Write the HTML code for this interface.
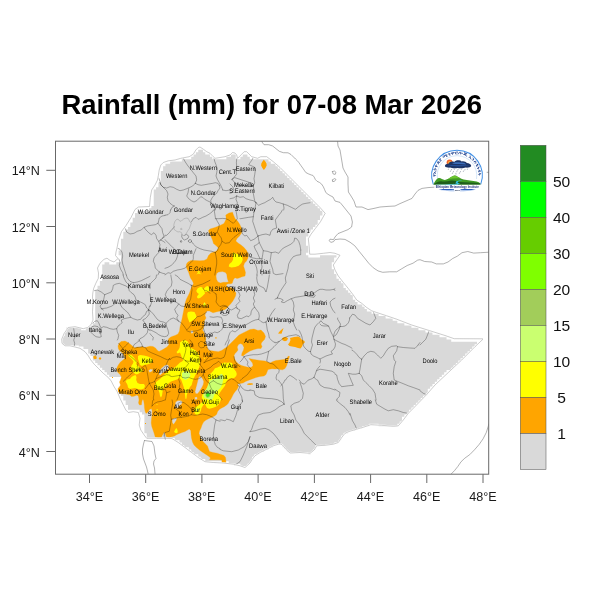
<!DOCTYPE html>
<html lang="en">
<head>
<meta charset="utf-8">
<title>Rainfall (mm) for 07-08 Mar 2026</title>
<style>
html,body{margin:0;padding:0;background:#fff;}
body{width:600px;height:600px;overflow:hidden;font-family:"Liberation Sans",sans-serif;}
svg{display:block;}
.title{font:bold 26.8px "Liberation Sans",sans-serif;fill:#000;}
.tick{font:12px "Liberation Sans",sans-serif;fill:#1a1a1a;}
.cb{font:14.6px "Liberation Sans",sans-serif;fill:#111;}
.lab{font:6.4px "Liberation Sans",sans-serif;fill:#000;text-rendering:geometricPrecision;text-anchor:middle;}
</style>
</head>
<body>
<svg width="600" height="600" viewBox="0 0 600 600">
<rect x="0" y="0" width="600" height="600" fill="#ffffff"/>
<defs><clipPath id="fc"><rect x="55.5" y="141.2" width="433.2" height="333"/></clipPath></defs>
<g clip-path="url(#fc)">
<path d="M191.22,156.83 191.22,159.17 181.85,159.17 181.85,161.51 170.14,161.51 170.14,163.86 165.45,163.86 165.45,166.20 163.11,166.20 163.11,168.54 163.11,170.88 160.77,170.88 160.77,173.23 160.77,175.57 160.77,177.91 160.77,180.25 160.77,182.60 158.43,182.60 158.43,184.94 158.43,187.28 156.08,187.28 156.08,189.62 153.74,189.62 153.74,191.96 153.74,194.31 153.74,196.65 153.74,198.99 153.74,201.33 153.74,203.68 153.74,206.02 151.40,206.02 151.40,208.36 149.06,208.36 149.06,210.70 137.35,210.70 137.35,213.05 135.00,213.05 135.00,215.39 135.00,217.73 132.66,217.73 132.66,220.07 132.66,222.41 130.32,222.41 130.32,224.76 130.32,227.10 127.98,227.10 127.98,229.44 125.63,229.44 125.63,231.78 123.29,231.78 123.29,234.13 123.29,236.47 123.29,238.81 120.95,238.81 120.95,241.15 120.95,243.50 120.95,245.84 120.95,248.18 120.95,250.52 118.61,250.52 118.61,252.86 118.61,255.21 120.95,255.21 120.95,257.55 120.95,259.89 120.95,262.23 116.27,262.23 116.27,264.58 109.24,264.58 109.24,262.23 104.55,262.23 104.55,264.58 102.21,264.58 102.21,266.92 102.21,269.26 102.21,271.60 102.21,273.95 102.21,276.29 102.21,278.63 102.21,280.97 99.87,280.97 99.87,283.31 99.87,285.66 97.53,285.66 97.53,288.00 97.53,290.34 95.18,290.34 95.18,292.68 95.18,295.03 95.18,297.37 95.18,299.71 95.18,302.05 95.18,304.40 95.18,306.74 95.18,309.08 95.18,311.42 95.18,313.76 95.18,316.11 95.18,318.45 95.18,320.79 95.18,323.13 92.84,323.13 92.84,325.48 90.50,325.48 90.50,327.82 85.82,327.82 85.82,330.16 81.13,330.16 81.13,327.82 77.00,327.82 77.00,327.50 66.30,327.50 66.30,332.50 64.73,332.50 64.73,334.84 64.73,336.00 63.90,336.00 63.90,337.19 62.39,337.19 62.39,339.53 62.39,341.87 62.39,344.21 63.90,344.21 63.90,345.60 78.79,345.60 78.79,346.56 83.47,346.56 83.47,348.90 88.16,348.90 88.16,351.24 88.16,353.58 90.50,353.58 90.50,355.93 92.84,355.93 92.84,358.27 92.84,360.61 95.18,360.61 95.18,362.95 97.53,362.95 97.53,365.29 99.87,365.29 99.87,367.64 102.21,367.64 102.21,369.98 104.55,369.98 104.55,372.32 106.90,372.32 106.90,374.66 109.24,374.66 109.24,377.01 120.95,377.01 120.95,379.35 120.95,381.69 120.95,384.03 120.95,386.38 118.61,386.38 118.61,388.72 118.61,391.06 120.95,391.06 120.95,393.40 120.95,395.74 123.29,395.74 123.29,398.09 123.29,400.43 125.63,400.43 125.63,402.77 125.63,405.11 127.98,405.11 127.98,407.46 127.98,409.80 139.69,409.80 139.69,412.14 142.03,412.14 142.03,414.48 144.37,414.48 144.37,416.83 144.37,419.17 144.37,421.51 144.37,423.85 144.37,426.19 144.37,428.54 144.37,430.88 144.37,433.22 146.72,433.22 146.72,435.56 146.72,437.91 174.82,437.91 174.82,440.25 179.51,440.25 179.51,442.59 181.85,442.59 181.85,444.93 184.19,444.93 184.19,447.28 188.88,447.28 188.88,449.62 191.22,449.62 191.22,451.96 193.56,451.96 193.56,454.30 198.25,454.30 198.25,456.64 200.59,456.64 200.59,458.99 205.27,458.99 205.27,461.33 228.70,461.33 228.70,463.67 240.41,463.67 240.41,466.01 247.43,466.01 247.43,463.67 249.78,463.67 249.78,461.33 252.12,461.33 252.12,458.99 252.12,456.64 254.46,456.64 254.46,454.30 259.15,454.30 259.15,451.96 263.83,451.96 263.83,449.62 268.51,449.62 268.51,447.28 273.20,447.28 273.20,444.93 282.57,444.93 282.57,447.28 284.91,447.28 284.91,449.62 287.25,449.62 287.25,451.96 308.33,451.96 308.33,454.30 310.68,454.30 310.68,451.96 313.02,451.96 313.02,449.62 315.36,449.62 315.36,447.28 315.36,444.93 334.10,444.93 334.10,442.59 338.78,442.59 338.78,440.25 341.13,440.25 341.13,437.91 341.13,435.56 343.47,435.56 343.47,433.22 348.15,433.22 348.15,430.88 355.18,430.88 355.18,428.54 362.21,428.54 362.21,426.19 369.23,426.19 369.23,423.85 378.60,423.85 378.60,426.19 397.34,426.19 397.34,423.85 399.68,423.85 399.68,421.51 402.03,421.51 402.03,419.17 402.03,416.83 404.37,416.83 404.37,414.48 406.71,414.48 406.71,412.14 409.05,412.14 409.05,409.80 411.40,409.80 411.40,407.46 413.74,407.46 413.74,405.11 416.08,405.11 416.08,402.77 418.42,402.77 418.42,400.43 420.76,400.43 420.76,398.09 423.11,398.09 423.11,395.74 425.45,395.74 425.45,393.40 427.79,393.40 427.79,391.06 427.79,388.72 430.13,388.72 430.13,386.38 432.48,386.38 432.48,384.03 434.82,384.03 434.82,381.69 437.16,381.69 437.16,379.35 439.50,379.35 439.50,377.01 441.84,377.01 441.84,374.66 444.19,374.66 444.19,372.32 446.53,372.32 446.53,369.98 451.21,369.98 451.21,367.64 453.56,367.64 453.56,365.29 455.90,365.29 455.90,362.95 458.24,362.95 458.24,360.61 460.58,360.61 460.58,358.27 462.93,358.27 462.93,355.93 465.27,355.93 465.27,353.58 467.61,353.58 467.61,351.24 469.95,351.24 469.95,348.90 472.29,348.90 472.29,346.56 474.64,346.56 474.64,344.21 476.98,344.21 476.98,341.87 451.21,341.87 451.21,339.53 446.53,339.53 446.53,337.19 439.50,337.19 439.50,334.84 432.48,334.84 432.48,332.50 425.45,332.50 425.45,330.16 418.42,330.16 418.42,327.82 411.40,327.82 411.40,325.48 404.37,325.48 404.37,323.13 397.34,323.13 397.34,320.79 392.66,320.79 392.66,318.45 385.63,318.45 385.63,316.11 378.60,316.11 378.60,313.76 371.58,313.76 371.58,311.42 366.89,311.42 366.89,309.08 364.55,309.08 364.55,306.74 362.21,306.74 362.21,304.40 357.52,304.40 357.52,302.05 355.18,302.05 355.18,299.71 352.84,299.71 352.84,297.37 352.84,295.03 350.50,295.03 350.50,292.68 348.15,292.68 348.15,290.34 345.81,290.34 345.81,288.00 343.47,288.00 343.47,285.66 343.47,283.31 341.13,283.31 341.13,280.97 338.78,280.97 338.78,278.63 336.44,278.63 336.44,276.29 336.44,273.95 334.10,273.95 334.10,271.60 334.10,269.26 331.76,269.26 331.76,266.92 331.76,264.58 331.76,262.23 334.10,262.23 334.10,259.89 334.10,257.55 336.44,257.55 336.44,255.21 320.05,255.21 320.05,257.55 308.33,257.55 308.33,255.21 305.99,255.21 305.99,252.86 308.33,252.86 308.33,250.52 308.33,248.18 308.33,245.84 305.99,245.84 305.99,243.50 305.99,241.15 305.99,238.81 305.99,236.47 308.33,236.47 308.33,234.13 308.33,231.78 310.68,231.78 310.68,229.44 313.02,229.44 313.02,227.10 315.36,227.10 315.36,224.76 317.70,224.76 317.70,222.41 317.70,220.07 320.05,220.07 320.05,217.73 320.05,215.39 322.39,215.39 322.39,213.05 322.39,210.70 320.05,210.70 320.05,208.36 317.70,208.36 317.70,206.02 315.36,206.02 315.36,203.68 313.02,203.68 313.02,201.33 310.68,201.33 310.68,198.99 308.33,198.99 308.33,196.65 305.99,196.65 305.99,194.31 303.65,194.31 303.65,191.96 301.31,191.96 301.31,189.62 298.96,189.62 298.96,187.28 296.62,187.28 296.62,184.94 294.28,184.94 294.28,182.60 291.94,182.60 291.94,180.25 289.60,180.25 289.60,177.91 287.25,177.91 287.25,175.57 284.91,175.57 284.91,173.23 282.57,173.23 282.57,170.88 280.23,170.88 280.23,168.54 277.88,168.54 277.88,166.20 275.54,166.20 275.54,163.86 270.86,163.86 270.86,161.51 268.51,161.51 268.51,159.17 249.78,159.17 249.78,156.83 247.43,156.83 247.43,154.49 242.75,154.49 242.75,156.83 240.41,156.83 240.41,159.17 235.72,159.17 235.72,156.83 235.72,154.49 231.04,154.49 231.04,156.83 226.35,156.83 226.35,159.17 212.30,159.17 212.30,156.83 209.96,156.83 209.96,154.49 205.27,154.49 205.27,152.15 202.93,152.15 202.93,149.80 198.25,149.80 198.25,152.15 195.90,152.15 195.90,154.49 193.56,154.49 193.56,156.83Z" fill="#d9d9d9" stroke="none"/>
<path d="M225.8,215.0 229.0,213.0 232.5,212.2 233.5,215.0 235.0,218.5 237.5,221.0 239.5,224.0 241.0,227.0 242.0,230.0 241.5,233.0 239.5,236.0 237.0,238.5 235.8,241.0 238.0,243.0 241.0,245.0 244.0,247.5 246.5,250.5 248.3,254.0 248.0,258.0 246.5,261.0 244.5,263.0 243.5,266.0 244.5,269.0 245.5,272.5 245.0,276.0 242.0,276.8 239.0,278.0 237.0,278.5 235.0,277.7 233.6,279.2 232.8,281.2 232.2,283.2 230.5,283.8 228.0,283.8 226.5,284.5 226.2,286.0 227.5,287.2 230.0,287.5 232.5,288.0 234.0,290.0 236.0,293.0 235.5,296.0 234.0,299.0 232.5,301.5 230.5,304.0 228.5,306.0 227.0,308.0 225.0,309.5 221.0,310.8 217.0,311.7 213.0,312.8 209.5,311.0 207.0,311.0 205.5,313.0 205.0,315.5 206.0,318.0 204.5,320.5 204.0,325.0 203.5,328.0 202.5,330.0 203.8,332.0 205.0,335.0 205.8,338.3 205.4,341.7 206.7,345.0 207.5,348.3 208.8,350.4 211.7,350.8 215.0,351.3 218.3,351.7 221.7,350.4 224.2,348.8 227.0,347.0 230.0,344.0 235.0,339.0 239.0,335.0 244.0,332.5 250.0,329.5 254.0,329.0 258.0,330.5 261.0,330.0 264.0,333.0 265.5,336.5 264.5,339.5 262.0,342.0 261.0,344.0 262.0,346.5 261.0,348.5 258.0,348.5 254.0,349.5 250.0,351.0 246.0,353.5 243.0,356.0 241.5,355.5 242.0,353.0 243.5,350.0 244.0,347.5 242.5,344.5 240.5,343.5 238.5,344.5 237.2,347.0 238.0,350.0 236.5,352.0 235.0,353.5 234.0,355.5 234.5,358.5 236.0,361.5 238.5,364.0 241.5,365.5 245.0,366.5 249.0,367.5 251.5,367.2 253.0,365.5 252.5,363.0 250.5,360.5 249.0,358.5 254.0,359.5 260.0,360.5 265.0,361.0 270.0,363.0 273.0,361.5 276.0,360.5 280.0,360.0 284.0,359.5 286.5,358.5 288.5,356.0 289.5,356.5 288.5,359.5 287.5,363.0 286.5,366.0 285.0,368.5 282.5,369.8 280.0,369.5 278.0,368.8 275.0,369.0 272.0,368.8 268.0,369.5 267.0,372.0 266.0,374.5 264.0,376.0 260.0,376.5 256.0,377.5 252.0,379.0 248.0,380.5 245.5,381.5 243.0,383.0 240.0,383.5 237.5,384.0 238.5,386.5 237.0,389.5 235.0,391.7 233.3,394.2 232.1,396.7 230.8,399.2 229.2,401.3 228.3,403.3 226.7,405.0 224.2,406.7 221.7,407.9 219.2,409.6 217.5,411.7 216.7,414.2 215.0,415.8 212.5,417.1 209.0,418.5 206.0,420.0 203.5,422.0 202.0,425.0 201.0,428.0 199.5,431.0 199.0,433.5 200.0,436.0 201.0,439.0 202.5,441.0 205.0,443.5 207.5,446.0 208.5,449.0 209.5,451.5 213.0,452.5 217.0,453.2 221.0,454.5 224.0,455.5 225.5,457.5 225.8,460.0 226.0,462.5 222.0,462.8 221.8,460.0 218.0,459.8 214.0,459.8 209.5,459.8 210.5,458.0 209.0,456.5 206.0,454.5 203.0,452.5 199.5,450.0 196.5,447.5 194.0,445.0 192.5,442.0 191.5,438.0 191.0,434.0 190.8,430.5 189.2,429.0 187.5,430.0 185.0,431.5 182.0,432.5 179.5,433.5 177.0,434.5 174.5,436.0 172.0,436.8 169.0,437.2 166.2,436.8 165.5,434.5 164.5,432.2 163.5,433.5 162.2,435.5 161.5,437.2 158.5,437.5 155.2,437.0 154.2,433.5 153.0,430.0 151.8,426.5 151.2,423.0 151.5,419.0 152.0,415.0 152.2,411.0 151.5,408.5 149.5,409.5 148.0,412.0 146.0,413.5 145.0,411.0 144.5,408.0 144.2,404.0 143.5,400.0 142.5,399.5 141.8,402.0 141.5,404.8 139.5,405.0 138.5,403.0 139.0,400.0 138.5,396.5 137.0,395.0 134.0,396.2 131.5,396.5 130.0,395.0 125.0,394.0 120.0,393.5 118.0,391.5 118.0,388.5 119.5,387.0 120.5,385.0 119.5,382.0 120.5,380.0 121.5,377.0 120.0,374.5 117.5,372.0 116.5,369.0 117.5,366.5 119.0,364.0 120.5,362.0 123.0,360.0 125.0,358.0 124.0,355.5 122.5,353.0 120.0,351.0 118.5,349.0 118.0,346.0 119.0,343.5 121.0,341.5 125.0,341.0 128.0,342.5 130.0,344.0 133.0,346.5 135.0,348.0 137.0,347.0 140.0,347.2 142.0,346.5 144.5,347.5 147.0,347.0 150.0,346.2 153.0,346.5 155.5,348.0 157.0,350.0 159.0,351.5 162.0,350.0 164.5,348.5 167.0,347.0 169.0,344.5 168.0,341.5 168.5,339.0 170.0,337.5 172.0,336.5 175.0,335.5 178.0,334.0 179.5,331.0 180.0,327.0 181.0,323.0 182.0,319.0 183.0,314.0 184.0,309.0 185.0,304.0 185.8,301.0 186.5,299.0 188.0,296.0 189.5,293.0 190.5,290.0 191.5,287.5 192.5,285.5 193.5,283.5 192.5,281.0 190.5,278.0 189.5,275.0 188.5,272.0 187.0,269.0 186.2,266.5 186.5,264.0 188.0,262.0 191.0,260.5 195.0,260.5 200.0,260.8 204.0,260.5 207.0,259.0 208.5,255.5 211.0,253.0 214.0,252.0 216.5,251.0 218.5,248.0 216.0,245.5 213.5,243.5 212.5,240.0 211.0,236.5 209.2,233.5 208.5,230.5 210.0,229.0 215.0,227.5 220.0,225.5 224.0,223.5 226.2,219.0ZM216.0,276.0 216.6,273.6 218.6,272.0 222.5,271.6 225.5,272.4 226.8,274.6 227.2,278.0 228.0,280.5 228.5,282.0 226.5,282.3 223.5,282.3 220.5,283.0 218.0,282.0 216.5,279.5ZM195.0,391.7 195.8,388.3 196.7,385.0 197.5,381.7 198.3,378.3 199.6,376.3 201.3,376.7 202.9,379.2 203.8,381.7 203.3,384.6 202.1,387.1 200.8,389.2 199.2,391.7 197.5,393.8 195.8,393.8ZM194.6,397.5 196.3,396.7 197.5,397.9 196.7,399.6 195.0,399.6ZM175.5,402.0 178.0,400.5 181.0,400.5 182.5,402.0 181.5,404.5 179.5,405.5 178.0,408.0 176.0,408.5 175.0,406.0ZM172.0,419.5 174.5,418.0 177.0,418.0 176.5,420.0 175.0,422.5 173.5,424.5 172.2,422.5ZM159.5,371.0 161.5,368.0 164.5,365.5 167.0,364.5 169.0,366.0 168.5,368.5 166.5,370.5 164.0,372.0 161.5,374.0 160.0,375.5 159.0,374.0ZM148.5,370.5 150.5,369.0 153.0,369.5 152.0,371.5 149.5,372.5ZM190.5,331.0 192.0,330.3 193.5,331.5 193.0,333.3 191.0,333.5Z" fill="#ffa500" fill-rule="evenodd" stroke="#ffa500" stroke-width="0.3" stroke-linejoin="round"/>
<path d="M263.8,159.8 265.2,161.2 266.5,163.6 266.7,165.4 265.6,167.8 263.9,170.0 262.2,167.8 261.1,165.4 261.3,163.4 262.6,161.2ZM93.3,356.5 94.5,355.6 96.5,356.5 96.8,358.5 95.0,359.3 93.5,358.6ZM98.7,358.0 100.0,357.2 101.3,358.0 101.0,359.5 99.2,359.6ZM112.0,377.0 113.0,377.0 113.0,378.0 112.0,378.0ZM278.0,333.5 280.0,331.0 283.5,328.0 282.5,331.0 281.5,333.8ZM281.8,338.5 283.5,337.2 286.0,337.0 288.0,338.2 287.0,340.5 285.0,341.2 282.8,340.5ZM290.0,338.0 294.0,337.0 298.0,336.5 300.0,337.5 301.5,339.5 304.5,341.0 304.8,342.5 303.0,344.0 302.0,346.5 300.5,348.5 298.0,348.0 295.0,347.0 292.0,346.5 289.5,346.0 288.0,344.5 289.5,342.5 290.5,340.0ZM247.0,384.0 249.0,383.2 252.5,383.2 253.0,384.5 250.0,385.0 247.5,384.8ZM145.0,423.0 146.0,423.0 146.0,424.0 145.0,424.0ZM215.3,337.3 216.6,337.3 216.6,338.6 215.3,338.6Z" fill="#ffa500"/>
<path d="M232.7,252.3 236.0,253.5 239.3,254.8 242.0,256.3 242.8,259.7 241.4,263.0 238.7,265.7 235.3,267.0 231.3,267.4 228.7,266.4 229.4,264.0 231.8,262.0 233.1,259.4 233.2,255.7ZM196.2,274.5 198.0,272.8 197.0,270.2 198.6,271.6 200.0,270.5 199.4,272.6 201.5,274.5 198.8,273.6ZM196.2,291.0 197.5,288.5 200.0,287.0 202.5,287.2 203.5,289.0 204.5,291.5 205.0,293.5 203.5,295.0 202.0,296.5 200.0,298.0 198.0,298.5 196.8,297.0 198.0,295.0 199.0,294.0 197.5,293.0ZM204.0,288.5 206.0,286.5 208.0,286.0 209.5,288.5 210.0,291.0 208.0,291.5 205.5,292.0 204.5,291.0ZM203.0,304.5 204.5,302.0 206.0,304.5 205.0,306.5 203.8,306.5ZM187.2,314.0 188.0,312.0 191.0,311.5 194.5,312.0 196.0,315.0 196.5,317.5 195.0,319.0 193.0,320.0 191.0,321.5 189.5,322.5 188.5,320.0 187.5,317.0ZM180.0,342.5 182.5,340.4 185.0,340.0 187.5,341.3 189.2,344.2 190.0,347.5 192.5,348.8 195.8,350.4 197.9,352.9 199.2,355.8 199.6,359.2 200.0,362.5 199.6,365.8 198.8,368.3 197.5,370.8 196.3,373.3 195.0,375.8 193.8,378.3 192.5,381.7 191.7,385.0 190.0,387.0 188.0,391.0 186.8,395.0 186.5,398.5 185.5,399.0 185.0,395.0 184.5,391.0 184.0,388.0 183.0,385.0 182.0,382.0 181.0,379.5 179.5,378.0 177.0,379.5 174.0,380.5 171.0,381.5 169.0,383.0 167.0,385.0 165.0,387.0 163.0,389.0 162.5,392.0 162.0,395.5 161.0,397.5 160.0,396.0 159.5,393.0 158.5,390.0 156.5,389.0 155.5,387.0 155.0,384.5 156.0,382.0 158.0,380.5 160.0,379.0 162.0,377.0 164.0,375.0 166.0,373.0 168.5,371.0 171.0,369.5 173.5,368.0 176.0,366.5 178.0,364.5 180.0,362.5 182.0,361.5 183.5,360.0 182.0,358.0 181.0,355.0 180.0,352.5 177.5,353.5 176.5,352.0 178.0,350.5 179.5,348.0 180.0,345.0ZM138.0,356.0 140.0,355.0 144.0,355.5 148.0,356.5 151.0,358.0 153.0,360.0 152.5,362.0 150.0,363.5 147.0,364.5 144.0,365.0 142.0,366.0 140.0,365.0 139.0,362.0 138.0,359.0ZM128.0,354.5 131.5,355.0 134.0,357.5 135.5,360.0 137.0,362.0 136.0,364.0 138.0,366.0 140.0,367.5 142.0,369.0 143.0,371.0 140.0,372.5 138.0,374.0 136.0,374.5 134.0,373.0 132.0,371.0 131.0,368.0 131.5,365.5 133.0,363.5 133.5,361.5 132.0,359.5 130.0,357.5 128.5,356.0ZM125.5,381.5 127.0,379.5 130.0,379.0 131.0,377.5 133.0,376.0 135.5,375.0 136.5,377.0 136.2,380.0 137.5,383.0 140.0,384.0 144.0,384.0 145.0,386.0 144.0,388.5 141.0,389.5 138.0,389.0 135.0,388.0 132.5,388.5 130.0,389.0 128.0,387.5 127.5,385.0 126.5,383.0ZM221.7,363.8 224.2,362.5 227.0,362.8 230.0,362.5 232.0,363.0 233.0,365.0 232.5,367.0 234.0,369.0 236.0,371.5 236.8,374.0 236.2,376.0 234.5,377.8 232.5,378.3 229.2,378.8 227.1,380.8 225.8,383.3 225.0,385.8 223.3,387.9 221.7,390.0 220.0,392.5 218.8,394.6 220.0,396.7 221.3,399.2 220.0,402.1 218.3,405.0 215.8,406.7 212.5,407.9 209.2,408.8 207.1,407.9 205.8,405.8 205.0,403.3 203.8,401.7 202.5,399.6 201.7,397.1 202.5,394.6 204.2,392.5 205.8,390.0 207.1,387.5 207.9,385.0 208.3,383.3 209.2,381.7 208.8,379.2 207.9,376.7 208.8,375.0 210.4,373.8 211.7,372.5 213.3,370.8 215.0,368.3 217.5,367.5 220.0,366.3ZM194.2,409.2 195.4,407.1 197.5,406.0 199.6,404.5 201.5,402.5 203.5,401.5 205.0,403.3 203.0,405.5 201.5,408.0 200.8,411.0 199.5,413.6 197.5,415.2 195.6,414.6 194.4,412.5ZM174.0,432.0 175.5,429.0 176.5,428.0 177.5,430.0 177.8,432.5 176.0,433.2ZM156.6,404.0 157.4,404.0 157.4,405.0 156.6,405.0ZM156.6,409.0 157.6,409.0 157.6,410.5 156.6,410.5ZM157.5,414.5 158.5,414.5 158.5,415.8 157.5,415.8ZM204.0,357.8 205.0,358.0 204.6,359.0 203.8,358.8Z" fill="#ffff00"/>
<path d="M182.0,373.0 184.0,371.5 187.0,371.2 189.5,372.5 190.5,375.0 189.5,377.3 187.5,379.0 185.5,380.0 183.0,378.8 182.0,376.5ZM209.6,380.8 212.5,379.2 215.8,378.3 218.3,376.7 220.4,374.2 222.1,373.8 222.9,375.8 223.3,378.3 222.9,380.8 222.5,383.3 221.7,385.8 220.4,387.9 218.8,389.6 217.1,391.3 215.4,392.9 214.2,395.0 213.3,397.5 212.5,399.2 210.8,400.0 208.8,399.6 206.7,398.8 204.6,397.9 203.3,395.8 203.8,393.3 205.0,390.8 206.7,388.3 207.9,385.8 208.8,383.3ZM196.3,409.2 197.5,408.3 198.6,409.2 198.2,410.8 196.8,411.0ZM204.2,303.6 204.6,302.8 205.2,303.6 204.8,304.6Z" fill="#caff70"/>
<path d="M205.6,393.8 207.6,391.8 210.0,392.6 210.8,395.0 209.4,397.3 207.0,397.9 205.4,395.8Z" fill="#a2cd5a"/>
<path d="M206.3,393.8 207.9,392.6 209.4,393.3 209.8,395.0 208.7,396.5 207.1,396.9 206.1,395.4Z" fill="#3fe81c"/>
<g fill="none" stroke="#000" stroke-opacity="0.62" stroke-width="0.48" stroke-linejoin="round" stroke-linecap="round">
<polyline points="183.3,158.4 185.3,162.0 188.0,166.0 190.7,169.3 193.3,172.7 196.0,176.0 196.7,180.0 195.3,183.3"/>
<polyline points="158.7,178.0 160.0,181.3 160.7,184.7 163.3,187.3 166.7,188.0 170.0,186.7 173.3,187.3 176.7,189.3 180.0,190.7 183.3,190.0 186.7,188.7 190.0,187.3 192.7,186.0 195.3,183.3"/>
<polyline points="195.3,183.3 198.0,184.7 201.3,185.3 204.7,184.7 208.7,184.0 212.7,183.3 215.3,182.7 218.0,183.3 219.3,185.3"/>
<polyline points="214.0,158.0 214.7,161.3 216.0,164.7 217.3,168.7 216.7,172.7 216.0,176.0 217.3,179.3 219.3,182.7 220.7,185.3 222.0,188.0 222.7,190.0"/>
<polyline points="188.7,188.7 188.0,192.7 186.7,196.0 188.7,198.7 191.3,200.7 194.0,202.0 196.7,200.7 198.7,198.7 200.7,196.7 202.7,197.3 204.7,199.3 207.3,200.7 210.0,202.0 211.3,203.3"/>
<polyline points="219.3,185.3 220.0,188.0 218.0,190.7 216.7,193.3 214.0,195.3 212.0,198.0 210.7,200.7 211.3,203.3"/>
<polyline points="160.0,182.7 161.3,185.3 164.0,188.0 166.7,190.7 168.0,194.0 167.3,197.3 168.0,200.7 170.0,203.3 172.7,205.3 174.7,206.0 172.0,207.3 170.7,210.0"/>
<polyline points="211.3,203.3 213.3,205.3 215.3,208.0 214.8,210.0"/>
<polyline points="215.3,208.0 215.0,210.0"/>
<polyline points="222.7,190.0 226.0,190.7 230.0,190.0"/>
<polyline points="253.3,157.3 252.0,160.0 250.0,162.7 248.7,164.7 252.0,166.0 254.7,167.3 255.3,170.7 254.7,174.7 254.0,178.7 254.7,182.7 253.3,186.0 254.0,190.0 253.3,193.3 254.0,197.3 254.7,200.7 256.0,202.7"/>
<polyline points="236.7,158.7 236.4,162.7 236.7,166.7 236.0,170.7 236.7,174.0 234.7,176.7 232.0,179.3"/>
<polyline points="232.0,179.3 234.7,177.6 238.0,178.7 242.0,180.0 246.0,181.3 250.0,182.7 252.0,183.3"/>
<polyline points="232.0,179.3 234.7,182.7 238.0,184.7 242.0,185.3 246.0,186.0 250.0,186.7 253.3,186.0"/>
<polyline points="230.0,184.0 232.7,186.7 234.0,190.0 232.0,192.7 230.0,193.3"/>
<polyline points="236.7,196.0 240.0,197.3 243.3,196.7 246.0,198.7 250.0,200.0 253.3,200.7 256.0,202.7"/>
<polyline points="236.7,196.0 236.0,199.3 237.3,202.7 236.7,206.7 237.2,210.0"/>
<polyline points="256.0,202.7 258.7,205.3 261.3,204.0 264.7,202.7 268.0,200.7 270.7,199.3 272.7,197.3 274.0,200.0 276.0,202.0 279.3,202.7 283.3,204.0 287.3,205.3 291.3,207.3 295.3,209.3 297.3,208.0 299.3,206.0 302.7,204.0 306.0,203.3 310.0,202.7"/>
<polyline points="283.3,204.0 284.0,208.0 283.7,210.0"/>
<polyline points="256.0,202.7 255.3,206.7 254.8,210.0"/>
<polyline points="230.0,198.7 233.3,198.0 236.7,196.0"/>
<polyline points="125.3,228.7 126.7,232.0 130.0,234.0 134.0,233.3 137.3,231.3 141.3,230.0 144.0,227.3 147.3,226.0 151.3,225.3 155.3,224.7 158.0,223.3"/>
<polyline points="165.0,215.5 162.0,216.0 159.3,218.0 158.7,220.7 158.0,223.3 160.0,226.0 162.0,228.7 162.7,232.7 164.0,236.0 162.0,238.7 160.7,240.0"/>
<polyline points="144.0,227.3 146.0,230.0 148.7,232.7 151.3,234.7 154.0,232.7 156.0,235.3 156.7,238.7 158.7,241.3 160.7,240.0"/>
<polyline points="158.7,241.3 160.0,244.7 159.3,248.0 160.0,251.3 158.0,253.3 156.0,255.3 154.0,258.0 153.3,261.3 154.7,264.0 155.3,268.0 157.3,270.0 159.3,272.0"/>
<polyline points="160.7,240.0 163.3,241.3 165.0,242.6"/>
<polyline points="159.3,272.0 158.0,274.7 157.8,275.0"/>
<polyline points="159.3,272.0 162.7,273.3 165.0,273.8"/>
<polyline points="117.3,248.0 120.0,249.3 122.0,252.0 122.7,256.0 122.0,260.0 122.7,264.0 124.0,268.0 125.3,272.0 126.3,275.0"/>
<polyline points="116.7,256.7 118.7,258.7 120.0,262.0 119.3,265.3 120.7,269.3 122.7,272.7 123.4,275.0"/>
<polyline points="162.0,238.7 164.7,236.7 165.0,236.5"/>
<polyline points="170.5,210.0 170.0,212.7 168.0,214.7 165.0,215.2"/>
<polyline points="191.3,222.0 193.3,218.7 196.0,217.3 198.0,219.3 200.0,218.7 202.7,217.3 206.0,216.0 209.3,214.0 212.0,212.0 213.5,210.0"/>
<polyline points="214.1,210.0 214.7,213.3 215.3,217.3 217.3,221.3 219.3,224.7 218.7,228.0 217.3,232.0 219.3,235.3 221.3,238.0 222.0,241.3 220.7,244.7 218.7,247.3 217.3,250.7 215.3,252.7"/>
<polyline points="215.3,218.7 218.7,218.7 222.7,218.4 226.0,218.7 228.7,220.0 231.3,222.0 233.3,223.3 235.3,221.3 237.3,218.7 236.7,214.7 236.0,210.7 236.1,210.0"/>
<polyline points="191.3,241.3 193.3,244.0 196.0,246.7 200.0,248.7 204.0,250.0 208.0,250.7 212.0,251.3 215.3,252.7"/>
<polyline points="222.0,241.3 225.3,243.3 229.3,242.7 231.3,240.0 234.0,237.3 237.3,234.7 240.0,232.7"/>
<polyline points="215.3,252.7 216.0,256.0 216.7,260.0 216.7,264.0 216.0,268.0 215.3,272.0 214.8,275.0"/>
<polyline points="196.0,248.7 194.7,252.0 193.3,255.3 193.3,258.7 192.7,260.7 190.7,262.7 188.0,265.3 185.3,268.0 181.3,269.3 177.3,270.0 173.3,271.3 170.7,273.3 168.0,272.7 165.3,274.7 165.0,274.8"/>
<polyline points="165.0,239.8 165.3,240.0 168.0,242.7 170.7,245.3 173.3,248.0 176.0,250.7 178.0,253.3 177.3,256.7 176.0,260.0 174.0,262.7 171.3,265.3 168.0,267.3 165.0,268.3"/>
<polyline points="174.7,226.7 172.0,229.3 169.3,232.7 166.7,235.3 165.0,235.3"/>
<polyline points="254.3,210.0 254.0,212.0 253.3,216.7 252.7,221.3 254.0,225.3 255.3,229.3 256.7,233.3 258.0,236.0"/>
<polyline points="240.0,218.6 240.7,218.7 244.7,218.0 248.7,217.3 253.3,216.7"/>
<polyline points="282.3,210.0 281.3,212.0 278.7,215.3 276.7,218.0 275.3,220.0 276.0,224.0 276.7,228.0 272.7,229.3 270.7,232.0 270.0,235.3 266.0,234.0 262.0,234.7 258.0,236.0"/>
<polyline points="241.3,231.3 242.7,234.0 244.7,236.0 246.7,235.3 248.7,238.0 250.7,240.7 254.0,239.3 256.7,237.3 258.0,236.0"/>
<polyline points="258.0,236.0 258.7,240.0 259.3,242.7 256.7,244.7 254.0,246.0 255.3,249.3 257.3,252.7 258.7,256.0 260.0,258.7"/>
<polyline points="259.3,242.7 261.3,246.7 263.3,250.7 262.7,254.7 262.0,258.7 261.3,262.7 262.0,266.7 261.3,270.7 262.0,274.7 262.0,275.0"/>
<polyline points="263.3,250.7 267.3,251.3 271.3,252.7 275.3,252.0 278.7,253.3 280.7,250.7 283.3,248.0 287.3,246.0 291.3,244.0 294.0,241.3 294.7,238.0 296.7,238.7 298.7,241.3 300.0,245.3 300.7,249.3 300.8,250.0"/>
<polyline points="271.3,252.7 270.7,257.3 270.0,261.3 271.3,265.3 272.7,269.3 273.3,273.3 276.0,274.7 280.7,274.0 283.0,273.6"/>
<polyline points="250.0,257.3 253.3,258.0 256.7,258.7 260.0,258.7 262.0,258.7"/>
<polyline points="240.0,232.2 241.3,231.3"/>
<polyline points="255.3,264.0 256.7,268.0 257.3,272.0 256.8,275.0"/>
<polyline points="94.0,290.7 97.3,290.0 101.3,292.0 104.7,294.7 108.0,293.3 111.3,292.0 112.7,288.7 113.3,285.3 116.0,284.0 119.3,283.3 122.7,284.7 126.0,286.0 128.7,288.0"/>
<polyline points="123.0,275.0 124.0,278.0 126.0,282.0 128.7,284.7 128.7,288.0"/>
<polyline points="126.3,275.0 127.3,278.0 130.0,281.3 133.3,282.7"/>
<polyline points="128.7,288.0 129.3,290.7 131.3,292.7 134.0,294.7 135.3,297.3 136.0,300.0 138.7,301.3 142.0,302.7 145.3,304.7 146.7,308.0 148.7,310.0"/>
<polyline points="149.3,284.7 150.0,288.7"/>
<polyline points="150.0,305.6 149.3,306.7 148.7,310.0"/>
<polyline points="133.3,282.7 137.3,282.0 141.3,280.7 145.3,278.7 149.3,276.7 150.0,276.3"/>
<polyline points="104.7,294.7 104.0,298.0 103.3,301.3 102.0,304.0 100.0,306.0 101.3,308.7 103.3,310.0"/>
<polyline points="101.3,308.7 106.7,308.0 112.0,306.0 115.3,303.3 118.7,302.7 120.0,304.0"/>
<polyline points="120.0,304.0 122.0,307.3 124.7,310.0 127.3,312.0 129.3,314.7 130.7,317.3 133.3,318.7 137.3,320.0 140.7,319.3 142.7,316.7 145.3,314.7 146.7,311.3 148.7,310.0"/>
<polyline points="130.7,317.3 127.3,318.0 124.0,318.7 121.3,320.0 122.0,322.7 120.0,324.7 118.0,326.0 116.7,328.7 117.3,332.0 118.7,335.3 118.0,338.7 117.3,340.0"/>
<polyline points="116.7,328.7 113.3,329.3 110.0,328.7 106.7,327.3 103.3,326.7 101.3,328.0 100.0,326.0 98.7,322.7 97.3,320.7 94.7,321.3 92.7,323.3"/>
<polyline points="90.0,328.7 92.0,326.7 94.7,326.0 98.0,326.7 100.0,328.7 101.3,331.3 100.7,334.0 101.3,336.7 99.3,337.3 96.0,336.7 93.3,334.7 91.3,332.7 90.0,330.7 90.0,328.7"/>
<polyline points="148.7,310.0 149.3,314.0 147.3,316.7 145.3,318.7 142.7,320.0 144.7,322.7 146.7,326.0 148.0,329.3 147.3,332.7 145.3,335.3 142.7,337.3 140.0,338.7 138.7,340.0"/>
<polyline points="148.0,329.3 150.0,330.5"/>
<polyline points="148.7,310.0 150.0,310.7"/>
<polyline points="170.8,275.0 171.3,278.0 172.0,282.0 171.3,286.0 168.7,288.7 166.7,291.3 165.3,294.7 166.7,298.0 169.3,300.0 172.7,301.3 176.0,302.0 178.7,304.0 181.3,306.0 184.7,306.7"/>
<polyline points="175.2,275.0 178.0,276.7 180.0,279.3 184.0,281.3 188.0,283.3 191.3,285.3"/>
<polyline points="191.3,285.3 194.7,286.7 198.7,285.3 202.7,284.0 206.7,282.0 210.0,280.3"/>
<polyline points="191.3,285.3 192.0,290.0 191.3,294.7 190.7,298.7 189.3,302.0 186.0,304.0 184.7,306.7"/>
<polyline points="202.7,288.0 204.7,290.7 206.7,290.7 209.3,292.7 210.0,293.1"/>
<polyline points="178.7,304.0 176.7,306.7 174.7,309.3 176.0,312.7 178.0,315.3 176.7,318.0 178.7,321.3 181.3,322.7 184.0,326.0 186.7,330.0 189.3,327.3 192.0,323.3 194.7,319.3 197.3,316.7 200.7,316.0 204.0,314.0 206.7,312.0"/>
<polyline points="186.7,330.7 190.0,332.0 193.3,331.3 197.3,330.7 200.7,329.3 202.7,326.7 205.3,325.3 209.3,324.7 210.0,324.9"/>
<polyline points="178.7,321.3 176.0,319.3 173.3,318.0 170.0,319.3 168.0,321.3 166.0,323.3 166.7,326.7 168.0,330.0 168.7,333.3 167.3,336.0 164.7,336.7 161.3,336.0 158.7,334.7 156.0,332.7 153.3,331.3 150.7,330.0 150.0,329.8"/>
<polyline points="150.0,310.8 150.7,311.3 153.3,314.0 155.3,316.7 157.3,319.3 160.0,321.3 163.3,322.0 166.0,323.3"/>
<polyline points="150.0,306.7 151.3,303.3 152.0,300.7 150.7,298.0 150.0,294.0"/>
<polyline points="150.0,285.0 150.7,283.3 153.3,280.7 156.0,278.0 156.5,275.0"/>
<polyline points="150.0,333.6 151.3,335.3 153.3,337.3 152.8,340.0"/>
<polyline points="202.7,326.7 204.0,330.0 205.3,334.0 204.7,338.0 205.3,340.0"/>
<polyline points="236.0,290.0 238.7,292.0 240.0,295.3 238.7,298.7 240.0,301.3 238.0,303.3 236.0,305.3 237.3,308.7 240.0,310.0 238.7,312.7 237.3,315.3 238.0,318.0 241.3,318.7 244.0,317.3 246.7,316.0 248.7,316.7 250.7,314.7 251.3,311.3 252.7,308.7 254.7,307.3 253.3,304.0 254.7,301.3 253.3,298.0 254.7,294.7 254.0,291.3 255.3,288.7"/>
<polyline points="254.7,307.3 256.7,310.0 258.7,312.7 259.3,316.0 258.7,319.3 260.7,321.3 263.3,322.7 266.0,322.0"/>
<polyline points="228.7,308.7 231.3,310.0 234.0,308.7 236.0,307.3 237.3,308.7"/>
<polyline points="258.7,319.3 255.3,320.0 252.0,321.3 248.7,323.3 246.0,324.7 242.7,326.0 240.0,328.0 237.3,330.0 235.3,332.0 232.0,330.7 230.0,332.7 228.7,336.0 228.0,339.3 226.0,342.7 225.1,345.0"/>
<polyline points="266.0,322.0 266.7,326.0 267.3,330.0 268.7,334.0 269.3,338.0 272.0,340.7 274.7,342.7 275.0,342.9"/>
<polyline points="266.0,322.0 268.0,319.3 270.0,316.0 272.0,312.7 274.0,310.0 275.0,308.7"/>
<polyline points="257.2,275.0 256.7,278.0 257.3,282.0 258.7,285.3 261.3,286.7 264.0,288.0 266.0,292.0 267.3,287.3 268.0,283.3 268.7,279.3 269.3,275.3 269.4,275.0"/>
<polyline points="210.0,316.8 213.3,317.3 217.3,316.7 221.3,317.3 222.7,320.7 222.0,323.3 223.3,326.0 222.0,329.3 220.0,331.3 217.3,332.7 214.7,332.0 212.0,333.3 210.0,332.8"/>
<polyline points="216.0,294.0 216.7,298.0 216.0,302.0 218.0,304.7 220.0,306.7 223.3,305.3 226.7,306.0 228.7,308.7"/>
<polyline points="210.7,290.7 213.3,292.0 216.0,294.0"/>
<polyline points="300.7,250.0 300.7,254.7 296.7,255.3 293.3,256.7 290.7,260.0 288.7,264.0 288.0,268.7 286.7,273.3 285.3,278.0 286.0,282.7 283.3,286.7 280.7,290.7 278.7,294.7 277.3,298.0"/>
<polyline points="277.3,298.0 280.7,298.7 283.3,300.0 281.3,302.0 284.0,302.7 287.3,300.7 291.3,298.7 295.3,297.3 299.3,296.7 303.3,296.0 307.3,295.3 311.3,294.7 314.7,292.7 317.3,290.7 320.0,289.3 322.7,289.3 326.0,290.0 330.0,290.0 334.0,289.3 335.0,288.6"/>
<polyline points="305.3,294.0 308.7,292.7 312.7,293.3 315.3,295.3 314.0,297.3 310.0,296.7 306.7,296.0 305.3,294.0"/>
<polyline points="334.0,289.3 335.0,290.6"/>
<polyline points="335.0,298.2 332.7,299.3 330.0,302.0 330.7,306.0 332.7,310.0 335.0,312.9"/>
<polyline points="291.3,298.7 293.3,302.0 294.0,306.0 293.3,310.0 294.7,314.0 294.0,318.0 293.3,322.0 294.7,326.0 296.7,330.0"/>
<polyline points="275.0,299.2 277.3,298.0"/>
<polyline points="349.9,318.0 350.0,317.5 352.5,314.2 355.0,315.0 357.5,318.3 361.7,320.8 365.8,323.3 370.0,325.0 373.3,321.7 375.8,318.3 374.2,314.2 373.3,311.7"/>
<polyline points="418.0,345.0 420.0,342.5"/>
<polyline points="429.2,330.5 427.5,335.0 425.8,339.2 422.5,342.5 420.0,345.0"/>
<polyline points="375.3,400.0 376.7,404.2 380.8,406.7 385.0,409.2 388.3,410.8 393.3,409.7 398.3,410.8 403.3,412.5 408.3,413.3"/>
<polyline points="420.0,390.8 423.3,393.3 426.7,394.7"/>
<polyline points="350.0,413.3 350.8,415.8 352.5,420.8 355.0,425.0 356.7,429.2"/>
<polyline points="250.0,390.0 254.2,390.8 255.0,395.0 259.2,397.5 265.0,398.3 271.7,398.7 277.5,399.7 281.7,401.7 284.2,404.2"/>
<polyline points="284.2,404.2 279.2,406.7 275.0,410.0 270.0,412.5 263.3,413.3 258.3,415.0 255.8,419.2 253.3,424.2 251.7,429.2 250.0,431.7"/>
<polyline points="284.2,404.2 283.3,398.3 283.0,391.7 282.5,385.8 280.8,383.3 278.3,380.0"/>
<polyline points="280.8,385.8 283.3,383.3 285.0,380.0"/>
<polyline points="300.0,382.5 301.7,387.5 303.3,393.3 302.5,398.3 299.2,401.7 294.2,403.3 290.8,405.8 291.7,410.8 294.2,415.0 295.8,420.0 299.2,424.2 301.7,428.3 304.2,433.3 307.5,436.7 310.8,440.0 314.2,443.3 316.7,445.8"/>
<polyline points="299.2,380.0 301.7,383.3 304.2,384.2 307.5,380.8 308.3,380.0"/>
<polyline points="317.5,380.0 320.0,385.0 324.2,387.5 330.0,388.3 335.0,390.0"/>
<polyline points="336.8,400.0 336.7,400.8 340.8,404.2 345.0,407.5 348.3,411.7 350.0,415.0"/>
<polyline points="250.0,431.7 255.0,430.8 260.0,429.2 265.0,428.3 269.2,430.0 273.3,433.3 276.7,437.5 279.2,440.8 280.0,443.7"/>
<polyline points="118.7,343.3 121.3,346.7 124.0,350.0 126.7,353.3 130.0,356.0 133.3,358.7 136.0,361.3 138.0,363.3 137.3,366.7 139.3,369.3"/>
<polyline points="128.7,342.7 125.3,346.0 121.3,350.0 118.7,352.7 117.3,356.0"/>
<polyline points="134.7,348.0 138.7,347.3 142.7,346.7 146.0,348.0 147.3,350.7 151.3,352.7 156.0,354.7 160.7,356.7 164.7,358.7 168.0,360.0 169.3,358.7"/>
<polyline points="142.7,346.7 141.3,343.3 139.3,340.7 139.5,340.0"/>
<polyline points="132.7,348.0 134.0,344.7 136.7,342.7 139.3,340.7"/>
<polyline points="139.3,369.3 142.7,367.3 145.3,365.3 146.7,368.7 147.3,372.7 148.0,376.7 148.7,380.7 149.3,383.3 147.3,386.0 145.3,388.7"/>
<polyline points="123.3,381.3 126.7,378.0 130.0,374.7 133.3,372.0 136.7,370.0 139.3,369.3"/>
<polyline points="149.3,383.3 151.3,386.7 153.3,390.0 154.0,394.0 153.3,398.0 153.7,400.0"/>
<polyline points="169.3,358.7 167.3,362.0 166.0,365.3 164.0,368.0 161.3,370.0 159.3,372.7 157.3,375.3 156.0,378.7 154.7,381.3 152.0,382.7 149.3,383.3"/>
<polyline points="169.3,358.7 170.0,359.2"/>
<polyline points="156.0,378.7 159.3,377.3 162.7,376.0 166.7,374.7 170.0,375.2"/>
<polyline points="154.7,381.3 156.0,384.7 158.7,388.7 162.0,390.0 165.3,389.3 166.7,392.7 166.0,396.7 165.4,400.0"/>
<polyline points="166.7,392.7 170.0,391.6"/>
<polyline points="170.0,359.7 170.7,358.7 173.3,357.3 176.7,356.7 180.0,357.3 183.3,358.7 185.3,360.7"/>
<polyline points="183.3,340.7 184.7,344.7 186.0,348.7 185.3,352.7 184.0,356.7 183.3,358.7"/>
<polyline points="183.3,340.7 185.0,340.0"/>
<polyline points="190.0,340.0 192.0,342.7 192.7,346.0 190.0,347.3 191.3,350.7 193.3,354.0 196.7,356.0 200.0,357.3 201.3,360.0 200.0,364.7"/>
<polyline points="185.3,360.7 188.7,361.3 192.0,360.7 195.3,362.0 198.7,362.7 200.0,364.7"/>
<polyline points="180.0,375.3 181.3,371.3 184.0,368.7 186.7,366.0 188.7,363.3 185.3,360.7"/>
<polyline points="200.0,364.7 202.7,368.0 204.0,371.3 203.3,374.7 201.3,377.3 198.7,378.7 195.3,379.3 192.0,378.7 188.7,377.3 185.3,378.0 182.0,377.3 180.0,375.3"/>
<polyline points="170.0,376.0 172.0,376.7 176.0,376.0 180.0,375.3"/>
<polyline points="180.0,375.3 178.7,379.3 180.0,383.3 179.3,387.3 180.0,391.3 178.7,395.3 177.3,399.3 176.7,400.0"/>
<polyline points="204.0,371.3 207.3,369.3 210.7,367.3 213.3,364.7 216.0,363.3 218.7,361.3 220.7,363.3 222.7,366.0"/>
<polyline points="213.3,380.7 217.3,383.3 221.3,384.7 225.3,383.3 228.0,380.7 231.3,378.7 234.7,380.0 237.3,382.7 240.0,384.0"/>
<polyline points="204.0,362.7 206.7,361.3 210.0,360.0 213.3,358.7 217.3,358.0 220.7,358.7 224.0,357.3 225.3,354.0 226.0,350.0 227.3,346.0 228.7,342.0 229.3,340.0"/>
<polyline points="234.0,356.7 234.7,360.7 236.7,364.0 238.7,366.0 240.0,366.7"/>
<polyline points="203.3,374.7 204.7,378.0 206.7,381.3 209.3,383.3 213.3,380.7"/>
<polyline points="209.3,383.3 210.7,387.3 212.7,390.7 216.0,393.3 219.3,396.0 222.0,399.3 221.6,400.0"/>
<polyline points="198.7,343.3 200.7,341.3 203.3,342.0 205.3,344.7 204.0,347.3 200.7,348.0 198.7,346.0 198.7,343.3"/>
<polyline points="206.7,347.3 209.3,350.0 211.3,352.7 210.0,356.0 207.3,358.7 205.3,361.3 204.0,362.7"/>
<polyline points="152.0,406.0 154.7,403.3 157.3,402.0 161.3,401.3 164.7,400.0"/>
<polyline points="172.1,400.0 172.7,403.3 172.0,407.3 171.3,411.3 170.7,415.3 171.3,419.3 170.7,423.3 170.0,427.3 169.3,431.3 166.7,432.0 164.7,432.7 164.0,436.0"/>
<polyline points="174.7,408.0 177.3,410.0 180.0,412.0 178.7,415.3 181.3,417.3 185.3,416.7 188.7,416.0 191.3,414.7 192.7,412.0 191.3,409.3 189.3,406.7 186.7,404.7 184.0,402.7 180.7,402.0 178.0,403.3 176.0,405.3 174.7,408.0"/>
<polyline points="171.3,419.3 174.7,418.7 178.7,417.3 181.3,417.3"/>
<polyline points="191.3,414.7 194.7,415.3 198.7,414.7 202.7,414.0 206.7,414.7 210.0,416.0 212.7,417.3 216.0,420.0 220.0,421.3"/>
<polyline points="192.7,412.0 194.7,410.0 196.0,406.7 195.3,403.3 193.3,401.3 191.3,400.0"/>
<polyline points="216.0,420.0 214.7,424.7 214.0,430.0 213.3,435.3 214.0,440.7 215.3,444.7 217.3,447.3 220.0,448.7"/>
<polyline points="153.3,400.0 152.7,400.7 152.0,406.0"/>
<polyline points="73.7,328.7 74.3,332.7 75.0,336.7 73.7,340.0 74.7,343.3 74.3,346.0"/>
<polyline points="275.0,342.1 276.0,342.7 279.3,341.3 282.0,339.3 285.3,337.3 288.7,336.0 292.7,335.3 296.0,334.7 299.3,336.0 300.0,336.9"/>
<polyline points="298.7,330.0 300.0,331.8"/>
<polyline points="279.3,341.3 276.7,344.0 274.0,346.7 271.3,349.3 268.7,351.3 265.3,352.7 261.3,354.0 257.3,354.7 253.3,354.7 249.3,355.3 246.0,356.0 244.0,356.7"/>
<polyline points="268.7,351.3 268.0,354.7 267.3,358.0 266.7,361.3 270.0,363.3 273.3,364.0 275.3,366.0 277.3,368.0 279.3,370.0 278.7,372.7 276.7,374.7 276.0,378.0 276.8,380.0"/>
<polyline points="244.0,356.7 246.0,359.3 248.0,362.0 247.3,364.7 249.3,367.3 251.3,369.3 249.3,372.0 247.3,374.7 244.7,376.7 242.0,378.7 240.0,380.7"/>
<polyline points="244.0,356.7 242.0,360.0 240.0,362.0"/>
<polyline points="240.0,384.7 242.0,388.0 244.7,390.0 248.0,390.7 250.0,390.3"/>
<polyline points="285.6,380.0 287.3,377.3 290.0,375.3 293.3,377.3 296.7,380.0"/>
<polyline points="308.7,380.0 312.0,378.7 314.0,377.3"/>
<polyline points="314.0,377.3 315.3,374.0 316.7,370.0 318.7,367.3 320.0,366.0"/>
<polyline points="314.0,377.3 316.7,380.0"/>
<polyline points="352.0,350.2 353.3,350.8 356.7,354.2 359.2,357.5 361.7,359.2"/>
<polyline points="361.7,359.2 364.2,355.8 367.5,352.5 370.8,351.3 374.2,352.0 377.5,355.0 380.8,358.3 383.3,355.8 385.8,351.7 388.3,348.3 391.7,346.3 396.7,345.8 397.5,346.7 403.3,347.5 410.0,348.0 415.0,348.3 418.3,345.0"/>
<polyline points="361.7,359.2 360.8,364.2 360.0,369.2 359.2,373.3"/>
<polyline points="359.2,373.3 355.8,374.2 352.5,374.2 348.3,373.3 350.0,377.5 351.7,381.7 353.3,385.3 348.3,385.8 341.7,386.7 339.2,383.7 337.5,379.2 336.7,375.0 335.0,374.2"/>
<polyline points="359.2,373.3 361.7,375.8 363.3,380.0 365.8,382.5 369.2,385.8 372.5,389.2 375.0,393.3 375.8,398.3 376.1,400.0"/>
<polyline points="397.5,346.7 396.7,350.8 393.3,355.8 394.2,360.0 395.8,361.7 394.2,366.7 393.3,373.3 394.2,380.0 398.3,381.7 403.3,383.7 408.3,385.8 413.3,387.5 420.0,390.0"/>
<polyline points="335.0,389.2 340.0,392.5 339.2,396.7 336.7,399.2 337.5,400.0"/>
<polyline points="321.0,321.0 319.0,322.5 317.0,324.5 315.0,327.0 314.0,330.0 313.0,334.0 312.0,338.0 311.5,342.0 312.5,345.0 311.5,348.0 310.5,351.5 311.0,354.0 313.5,356.0 317.0,357.5 320.0,359.0 323.0,357.5 326.0,356.0 329.0,355.0 332.5,354.0 331.0,351.5 333.5,349.5 335.0,347.0 335.5,344.0 334.5,341.0 333.5,337.0 332.0,334.0 330.5,331.0 329.5,328.0 328.5,326.0 326.0,324.5 323.5,323.5 321.0,321.0"/>
<polyline points="320.0,324.0 321.5,325.5 324.0,326.0 327.0,326.0 328.5,326.0"/>
<polyline points="337.7,318.0 337.5,319.0 339.0,321.5 340.5,324.0 340.0,326.5 338.5,328.0 336.5,329.5 335.0,331.5 334.0,334.0 333.5,337.0"/>
<polyline points="340.0,326.5 339.0,329.5 337.5,332.5 336.0,335.0 334.5,336.0"/>
<polyline points="349.5,318.0 349.5,320.0 348.5,322.5 347.0,324.5 345.0,326.0 342.5,326.5 340.0,326.5"/>
<polyline points="333.5,339.0 336.0,340.5 339.0,342.0 342.0,343.5 345.0,344.5 348.0,346.0 351.0,347.5 352.0,348.3"/>
<polyline points="300.0,332.3 301.0,334.0 302.0,337.0 302.5,340.0 303.0,343.0 303.5,346.0 305.0,348.0 307.0,350.0 309.0,351.5 310.5,351.5"/>
<polyline points="320.0,359.0 320.5,361.0 320.0,363.0"/>
<polyline points="182.0,234.7 181.7,236.7 182.7,238.7 184.3,240.0 186.3,239.3 188.0,238.3 188.7,236.7 187.7,235.0 186.3,234.3 184.7,235.3"/>
<polyline points="188.5,241.0 189.0,239.9 190.2,239.5 191.3,240.1 191.5,241.3 190.7,242.4 189.4,242.5 188.7,241.9 188.5,241.0"/>
<polyline points="180.5,241.3 181.1,240.3 181.8,241.3 181.1,242.5 180.5,241.3"/>
<polyline points="229.3,311.0 229.2,312.2 228.7,313.2 228.0,314.2 227.1,314.9 226.0,315.4 224.8,315.5 223.6,315.4 222.6,314.9 221.6,314.2 220.9,313.2 220.4,312.2 220.3,311.0 220.4,309.8 220.9,308.8 221.6,307.8 222.6,307.1 223.6,306.6 224.8,306.5 226.0,306.6 227.1,307.1 228.0,307.8 228.7,308.8 229.2,309.8 229.3,311.0"/>
<polyline points="319.5,301.5 320.6,300.6 321.8,301.3 321.9,302.7 320.7,303.4 319.6,302.8 319.5,301.5"/>
<polyline points="242.2,400.0 242.5,401.7 240.0,405.0 237.5,410.0 235.8,415.8 233.3,421.7 230.0,420.0 226.7,419.2 225.0,420.8 221.7,420.0 220.0,420.0"/>
<polyline points="220.0,449.4 223.3,450.8 231.7,451.7 238.3,450.0 244.2,446.7 248.3,441.7 250.0,436.7"/>
<polyline points="250.0,436.7 246.7,446.7 243.3,455.0 240.0,461.7 235.0,465.0"/>
<polyline points="237.5,385.0 240.0,386.7 238.3,390.0 241.7,396.7 242.5,401.7"/>
<polyline points="316.7,370.7 320.0,369.2 324.0,369.8 328.0,370.5 332.0,371.2 335.0,373.3"/>
</g>
<polygon points="117,248 118.5,240 121.5,231.5 126,225.5 131,217.5 135,209.5 138.5,207 149.5,206.5 150.3,197.5 151.7,190 155,185 157.5,180 158.3,175.8 159.2,170 160.8,165 163.3,162.5 168.3,160.8 175,160 180.8,158.3 185,157.5 189.2,156.7 193.3,154.2 195.8,150 198.3,147.5 200,147 203.3,149.2 206.7,151.7 210,153.3 213.3,156.7 215,158.3 220,157.5 225,156.7 230,155 232.5,152.5 235,153 236.7,155 237.5,158.3 239.5,156.5 241.7,154.2 244.2,151.7 246.7,151.7 249,154 251.7,156.7 257.5,158.3 260.8,156.7 266.7,156.7 273.3,161.7 280,167.5 286.7,174.2 293.3,180.8 300,187.5 306.7,194.2 313.3,200.8 320,207.5 325.2,213.3 320.5,221.7 315.5,228.3 311,234.2 308.3,238.8 309.2,246.7 309.7,254.2 315,254.2 323.3,253.3 330,252.5 335,253.3 340,255.3 336.7,260 333.3,265 335,270 338.3,276 343,282 348.3,288.5 353.3,295 356.7,300 361.7,303.3 366.7,307.5 371.7,310.8 376.7,312.5 386.7,315.8 396.7,319.2 411.7,325 429.2,330.5 445,335.5 454.2,338.7 482.5,338.8 483,339.2 475,346.7 461.7,360 448.3,372.5 435,385 426.7,394.5 413.3,408.3 408.3,413.3 403.3,420 398.3,425.8 393.3,426.3 381.7,425.3 370.8,424.7 365,426.7 356.7,429.2 349,431.5 345,433.3 341.7,437.5 338.3,442.5 333.3,444.2 325,445.3 316.7,445.8 314.2,450 310,453.3 300,452.5 290,453 285.8,449.2 282.5,445 280,443.7 273.3,445.8 266.7,449.2 260,452.5 255,455.8 251.7,460 250,463 245,467.5 240,465.8 233.3,464.2 223.3,463 213.3,462.5 205,461.7 198.3,457.5 191.7,452.5 185,447.5 178.3,442.5 172,438.6 165,438.3 156.7,438.3 146.7,438.3 144.2,435 140.8,430 139.2,425 140,418.3 138.3,412.5 133.3,411.7 128.3,412.5 125.8,410 123.3,405 120,398.3 117.2,391.7 113.8,386.2 111.2,381 108.3,377.5 103.3,373.3 98.3,368.3 94.2,364.2 90.8,360 88.3,355.8 85,351.7 80,348.3 75,347 70,345.8 65,345.8 62,343.3 61.7,339.2 64.2,333.3 68.3,327.5 75,326.7 83.3,328.7 87.5,327.5 90.8,325 93,320 92.5,311.7 93,303.3 92.5,297 92.8,293 93.7,288.3 95.8,283.3 98.3,278.3 98.5,273 97.5,268 100,263.2 104,259.3 107,258.2 110,260.4 114,262 118,258.5 115.5,255.5 116,252" fill="none" stroke="#ffffff" stroke-width="1.5" stroke-linejoin="round"/>
<polygon points="117,248 118.5,240 121.5,231.5 126,225.5 131,217.5 135,209.5 138.5,207 149.5,206.5 150.3,197.5 151.7,190 155,185 157.5,180 158.3,175.8 159.2,170 160.8,165 163.3,162.5 168.3,160.8 175,160 180.8,158.3 185,157.5 189.2,156.7 193.3,154.2 195.8,150 198.3,147.5 200,147 203.3,149.2 206.7,151.7 210,153.3 213.3,156.7 215,158.3 220,157.5 225,156.7 230,155 232.5,152.5 235,153 236.7,155 237.5,158.3 239.5,156.5 241.7,154.2 244.2,151.7 246.7,151.7 249,154 251.7,156.7 257.5,158.3 260.8,156.7 266.7,156.7 273.3,161.7 280,167.5 286.7,174.2 293.3,180.8 300,187.5 306.7,194.2 313.3,200.8 320,207.5 325.2,213.3 320.5,221.7 315.5,228.3 311,234.2 308.3,238.8 309.2,246.7 309.7,254.2 315,254.2 323.3,253.3 330,252.5 335,253.3 340,255.3 336.7,260 333.3,265 335,270 338.3,276 343,282 348.3,288.5 353.3,295 356.7,300 361.7,303.3 366.7,307.5 371.7,310.8 376.7,312.5 386.7,315.8 396.7,319.2 411.7,325 429.2,330.5 445,335.5 454.2,338.7 482.5,338.8 483,339.2 475,346.7 461.7,360 448.3,372.5 435,385 426.7,394.5 413.3,408.3 408.3,413.3 403.3,420 398.3,425.8 393.3,426.3 381.7,425.3 370.8,424.7 365,426.7 356.7,429.2 349,431.5 345,433.3 341.7,437.5 338.3,442.5 333.3,444.2 325,445.3 316.7,445.8 314.2,450 310,453.3 300,452.5 290,453 285.8,449.2 282.5,445 280,443.7 273.3,445.8 266.7,449.2 260,452.5 255,455.8 251.7,460 250,463 245,467.5 240,465.8 233.3,464.2 223.3,463 213.3,462.5 205,461.7 198.3,457.5 191.7,452.5 185,447.5 178.3,442.5 172,438.6 165,438.3 156.7,438.3 146.7,438.3 144.2,435 140.8,430 139.2,425 140,418.3 138.3,412.5 133.3,411.7 128.3,412.5 125.8,410 123.3,405 120,398.3 117.2,391.7 113.8,386.2 111.2,381 108.3,377.5 103.3,373.3 98.3,368.3 94.2,364.2 90.8,360 88.3,355.8 85,351.7 80,348.3 75,347 70,345.8 65,345.8 62,343.3 61.7,339.2 64.2,333.3 68.3,327.5 75,326.7 83.3,328.7 87.5,327.5 90.8,325 93,320 92.5,311.7 93,303.3 92.5,297 92.8,293 93.7,288.3 95.8,283.3 98.3,278.3 98.5,273 97.5,268 100,263.2 104,259.3 107,258.2 110,260.4 114,262 118,258.5 115.5,255.5 116,252" fill="none" stroke="#989898" stroke-width="0.5" stroke-linejoin="round"/>
<g fill="none" stroke="#7d7d7d" stroke-width="0.6" stroke-linejoin="round" stroke-linecap="round">
<polyline points="262.0,140.0 262.0,142.0 264.0,144.7 268.7,144.7 272.7,146.0 276.0,148.7 279.3,151.3 283.3,152.7 288.0,152.8 291.0,154.5 293.5,157.0 295.5,159.0 297.1,160.5 298.8,162.5 300.8,165.4 302.9,168.3 304.6,170.8 305.8,172.5 308.3,173.8 311.3,175.0 312.9,175.4 314.2,177.1 315.4,179.6 317.1,181.3 319.6,182.5 321.7,184.2 323.3,186.7 324.6,189.6 325.8,192.5 327.9,194.2 330.0,195.5 333.0,197.0 335.0,201.0 340.0,202.4 343.0,206.0 347.0,211.0 351.0,216.0 352.4,222.0 351.6,227.0 348.0,229.6 343.0,231.6 338.0,233.6 335.0,237.0 333.6,239.6 330.0,239.2 329.0,240.6 331.0,242.4 333.6,241.6 335.0,239.6 340.0,239.0 345.0,239.4 350.0,242.2 354.7,245.7 359.3,251.5 364.0,257.3 368.7,263.2 373.3,267.8 378.0,270.9 382.7,272.3 389.7,271.8 396.7,271.8 401.3,269.0 407.2,265.5 413.0,263.2 417.7,260.1 420.0,259.7 424.7,261.5 431.7,262.0 436.3,263.9 443.3,263.9 448.0,262.0 452.7,258.5 457.3,256.2 462.0,252.7 467.8,251.5 473.7,253.1 480.7,252.7 489.0,252.2"/>
<polyline points="337.6,140.0 337.6,141.6 338.0,146.0 340.0,150.0 341.0,156.0 342.0,162.0 343.0,168.0 345.0,172.0 348.0,177.0 348.0,184.0 348.4,192.0 351.0,196.0 354.0,201.0 356.0,207.0 362.0,207.0 368.0,209.6 374.0,208.4 380.0,207.0 388.0,206.4 395.0,206.0 400.0,203.6 406.0,201.0 412.0,198.4 415.0,194.0 418.0,190.4 422.0,188.4 428.0,187.6 434.0,187.2"/>
<polyline points="332.4,171.6 334.4,171.0 336.0,172.4 335.2,174.4 333.2,174.0 332.4,171.6"/>
<polyline points="332.4,180.0 334.4,178.6 336.0,179.4 334.4,181.4 332.6,181.6 332.4,180.0"/>
<polyline points="450.7,474.5 454.6,470.5 457.8,466.5 461.0,461.8 464.9,458.1 469.7,454.7 474.4,449.9 479.2,444.4 483.1,438.8 486.3,432.5 488.2,426.5 488.8,424.0"/>
<polyline points="144.5,440.5 148.0,441.0 152.0,441.5 154.0,446.0 154.5,450.0 155.0,454.0 156.0,458.5 154.0,461.0 153.5,464.0 154.5,468.0 155.0,473.5 155.3,476.0"/>
<polyline points="144.5,440.5 143.5,444.0 142.5,449.0 142.5,454.0 143.5,459.0 145.0,463.0 146.5,467.0 147.5,471.0 148.0,473.5 148.2,476.0"/>
<polyline points="164.0,432.7 164.6,436.0 165.3,439.3"/>
</g>
<g fill="none" stroke="#8a8a8a" stroke-width="0.4" stroke-linejoin="round">
<polyline points="174.0,229.3 173.7,226.7 174.0,224.0 175.0,221.3 176.3,219.7 178.0,219.0 179.3,220.7 181.0,221.3 182.3,220.0 184.0,218.7 186.0,218.1 188.0,218.3 189.0,220.0 190.0,222.0 191.3,223.0 190.7,224.7 190.0,226.7 189.3,228.7 188.3,230.0 187.3,231.7 186.3,233.3 185.7,234.3 184.7,235.3 183.0,235.7 182.0,234.7 181.7,233.0 180.7,232.0 179.3,231.7 178.0,232.0 176.7,231.3 175.3,230.3 174.0,229.3"/>
<polyline points="180.3,229.0 181.3,228.1 182.2,229.2 181.0,229.7 180.3,229.0"/>
</g>
<g class="lab">
<text transform="translate(176.7,177.8) scale(0.9,1)">Western</text>
<text transform="translate(203.3,170.2) scale(0.9,1)">N.Western</text>
<text transform="translate(203.3,194.6) scale(0.9,1)">N.Gondar</text>
<text transform="translate(183.3,211.5) scale(0.9,1)">Gondar</text>
<text transform="translate(245.7,170.8) scale(0.9,1)">Eastern</text>
<text transform="translate(276.4,188.2) scale(0.9,1)">Kilbati</text>
<text transform="translate(244.0,186.8) scale(0.9,1)">Mekelle</text>
<text transform="translate(242.0,193.2) scale(0.9,1)">S.Eastern</text>
<text transform="translate(245.3,210.8) scale(0.9,1)">S.Tigray</text>
<text transform="translate(267.1,219.5) scale(0.9,1)">Fanti</text>
<text transform="translate(227.3,173.9) scale(0.9,1)">Cent.T</text>
<text transform="translate(150.7,213.9) scale(0.9,1)">W.Gondar</text>
<text transform="translate(139.1,257.1) scale(0.9,1)">Metekel</text>
<text transform="translate(162.7,251.8) scale(0.9,1)">Awi</text>
<text transform="translate(109.6,279.1) scale(0.9,1)">Assosa</text>
<text transform="translate(224.7,208.4) scale(0.9,1)">WagHamra</text>
<text transform="translate(204.7,236.2) scale(0.9,1)">S.Gondar</text>
<text transform="translate(180.7,254.2) scale(0.9,1)">W.Gojam</text>
<text transform="translate(180.0,254.4) scale(0.9,1)">B.Dar</text>
<text transform="translate(200.0,270.8) scale(0.9,1)">E.Gojam</text>
<text transform="translate(293.3,233.1) scale(0.9,1)">Awsi /Zone 1</text>
<text transform="translate(236.7,231.8) scale(0.9,1)">N.Wello</text>
<text transform="translate(236.4,257.1) scale(0.9,1)">South Wello</text>
<text transform="translate(258.7,264.4) scale(0.9,1)">Oromia</text>
<text transform="translate(265.3,273.8) scale(0.9,1)">Hari</text>
<text transform="translate(139.3,287.8) scale(0.9,1)">Kamashi</text>
<text transform="translate(97.3,303.5) scale(0.9,1)">M.Komo</text>
<text transform="translate(126.0,303.5) scale(0.9,1)">W.Wellega</text>
<text transform="translate(110.9,318.4) scale(0.9,1)">K.Wellega</text>
<text transform="translate(95.3,331.5) scale(0.9,1)">Itang</text>
<text transform="translate(130.9,334.1) scale(0.9,1)">Ilu</text>
<text transform="translate(178.9,293.5) scale(0.9,1)">Horo</text>
<text transform="translate(162.9,301.5) scale(0.9,1)">E.Wellega</text>
<text transform="translate(197.1,308.4) scale(0.9,1)">W.Shewa</text>
<text transform="translate(154.7,327.8) scale(0.9,1)">B.Bedele</text>
<text transform="translate(205.3,325.5) scale(0.9,1)">SW.Shewa</text>
<text transform="translate(169.1,344.1) scale(0.9,1)">Jimma</text>
<text transform="translate(203.7,336.8) scale(0.9,1)">Gurage</text>
<text transform="translate(222.1,291.2) scale(0.9,1)">N.SH(OR)</text>
<text transform="translate(244.5,291.2) scale(0.9,1)">N.SH(AM)</text>
<text transform="translate(224.8,313.5) scale(0.9,1)">A.A</text>
<text transform="translate(234.4,327.9) scale(0.9,1)">E.Shewa</text>
<text transform="translate(249.3,342.8) scale(0.9,1)">Arsi</text>
<text transform="translate(310.0,277.9) scale(0.9,1)">Siti</text>
<text transform="translate(309.3,295.8) scale(0.9,1)">D.D</text>
<text transform="translate(319.3,305.1) scale(0.9,1)">Harari</text>
<text transform="translate(314.3,317.5) scale(0.9,1)">E.Hararge</text>
<text transform="translate(280.7,321.9) scale(0.9,1)">W.Hararge</text>
<text transform="translate(348.7,309.1) scale(0.9,1)">Fafan</text>
<text transform="translate(379.2,337.6) scale(0.9,1)">Jarar</text>
<text transform="translate(322.2,345.1) scale(0.9,1)">Erer</text>
<text transform="translate(430.0,363.0) scale(0.9,1)">Doolo</text>
<text transform="translate(342.5,366.0) scale(0.9,1)">Nogob</text>
<text transform="translate(388.3,385.1) scale(0.9,1)">Korahe</text>
<text transform="translate(360.8,403.8) scale(0.9,1)">Shabelle</text>
<text transform="translate(287.0,422.6) scale(0.9,1)">Liban</text>
<text transform="translate(322.5,416.8) scale(0.9,1)">Afder</text>
<text transform="translate(258.0,448.3) scale(0.9,1)">Daawa</text>
<text transform="translate(129.1,354.4) scale(0.9,1)">Sheka</text>
<text transform="translate(121.3,357.5) scale(0.9,1)">Maj</text>
<text transform="translate(147.6,363.1) scale(0.9,1)">Kefa</text>
<text transform="translate(127.6,371.8) scale(0.9,1)">Bench Sheko</text>
<text transform="translate(132.7,393.5) scale(0.9,1)">Mirab Omo</text>
<text transform="translate(160.7,372.8) scale(0.9,1)">Konta</text>
<text transform="translate(158.7,389.8) scale(0.9,1)">Bas</text>
<text transform="translate(170.0,387.5) scale(0.9,1)">Gofa</text>
<text transform="translate(74.3,337.1) scale(0.9,1)">Nuer</text>
<text transform="translate(102.3,353.8) scale(0.9,1)">Agnewak</text>
<text transform="translate(188.0,346.5) scale(0.9,1)">Yem</text>
<text transform="translate(194.9,355.1) scale(0.9,1)">Had</text>
<text transform="translate(208.3,356.9) scale(0.9,1)">Mar</text>
<text transform="translate(195.3,361.8) scale(0.9,1)">Kem</text>
<text transform="translate(175.7,370.8) scale(0.9,1)">Dawuro</text>
<text transform="translate(194.4,373.2) scale(0.9,1)">Wolayita</text>
<text transform="translate(229.3,367.9) scale(0.9,1)">W.Arsi</text>
<text transform="translate(217.6,378.8) scale(0.9,1)">Sidama</text>
<text transform="translate(185.6,392.8) scale(0.9,1)">Gamo</text>
<text transform="translate(209.3,394.1) scale(0.9,1)">Gedeo</text>
<text transform="translate(195.7,404.1) scale(0.9,1)">Am</text>
<text transform="translate(210.3,404.1) scale(0.9,1)">W.Guji</text>
<text transform="translate(209.3,346.1) scale(0.9,1)">Silte</text>
<text transform="translate(156.7,415.5) scale(0.9,1)">S.Omo</text>
<text transform="translate(183.7,415.9) scale(0.9,1)">Kon</text>
<text transform="translate(178.0,408.8) scale(0.9,1)">Ale</text>
<text transform="translate(195.7,412.1) scale(0.9,1)">Bur</text>
<text transform="translate(208.7,440.8) scale(0.9,1)">Borena</text>
<text transform="translate(235.8,409.1) scale(0.9,1)">Guji</text>
<text transform="translate(293.3,362.8) scale(0.9,1)">E.Bale</text>
<text transform="translate(261.3,387.5) scale(0.9,1)">Bale</text>
</g>
</g>
<text class="title" x="61.4" y="113.7" textLength="420.5" lengthAdjust="spacingAndGlyphs">Rainfall (mm) for 07-08 Mar 2026</text>
<rect x="55.5" y="141.2" width="433.2" height="333.0" fill="none" stroke="#686868" stroke-width="1"/>
<g stroke="#686868" stroke-width="1" fill="none">
<line x1="46.3" y1="451.5" x2="55.5" y2="451.5"/>
<line x1="46.3" y1="395.3" x2="55.5" y2="395.3"/>
<line x1="46.3" y1="339.0" x2="55.5" y2="339.0"/>
<line x1="46.3" y1="282.8" x2="55.5" y2="282.8"/>
<line x1="46.3" y1="226.5" x2="55.5" y2="226.5"/>
<line x1="46.3" y1="170.3" x2="55.5" y2="170.3"/>
<line x1="89.5" y1="474.2" x2="89.5" y2="483.0"/>
<line x1="145.7" y1="474.2" x2="145.7" y2="483.0"/>
<line x1="201.9" y1="474.2" x2="201.9" y2="483.0"/>
<line x1="258.1" y1="474.2" x2="258.1" y2="483.0"/>
<line x1="314.4" y1="474.2" x2="314.4" y2="483.0"/>
<line x1="370.6" y1="474.2" x2="370.6" y2="483.0"/>
<line x1="426.8" y1="474.2" x2="426.8" y2="483.0"/>
<line x1="483.0" y1="474.2" x2="483.0" y2="483.0"/>
<line x1="488.7" y1="172.3" x2="486.7" y2="172.3" stroke-opacity="0.55"/>
</g>
<text class="tick" transform="translate(39.9,456.5) scale(1.05,1)" text-anchor="end">4°N</text>
<text class="tick" transform="translate(39.9,400.3) scale(1.05,1)" text-anchor="end">6°N</text>
<text class="tick" transform="translate(39.9,344.0) scale(1.05,1)" text-anchor="end">8°N</text>
<text class="tick" transform="translate(39.9,287.8) scale(1.05,1)" text-anchor="end">10°N</text>
<text class="tick" transform="translate(39.9,231.5) scale(1.05,1)" text-anchor="end">12°N</text>
<text class="tick" transform="translate(39.9,175.3) scale(1.05,1)" text-anchor="end">14°N</text>
<text class="tick" transform="translate(89.4,500.9) scale(1.05,1)" text-anchor="middle">34°E</text>
<text class="tick" transform="translate(145.6,500.9) scale(1.05,1)" text-anchor="middle">36°E</text>
<text class="tick" transform="translate(201.8,500.9) scale(1.05,1)" text-anchor="middle">38°E</text>
<text class="tick" transform="translate(258.0,500.9) scale(1.05,1)" text-anchor="middle">40°E</text>
<text class="tick" transform="translate(314.3,500.9) scale(1.05,1)" text-anchor="middle">42°E</text>
<text class="tick" transform="translate(370.5,500.9) scale(1.05,1)" text-anchor="middle">44°E</text>
<text class="tick" transform="translate(426.7,500.9) scale(1.05,1)" text-anchor="middle">46°E</text>
<text class="tick" transform="translate(482.9,500.9) scale(1.05,1)" text-anchor="middle">48°E</text>
<g stroke="#4d4d4d" stroke-width="0.5">
<rect x="520.3" y="145.30" width="25.7" height="36.02" fill="#228b22"/>
<rect x="520.3" y="181.32" width="25.7" height="36.02" fill="#00ff00"/>
<rect x="520.3" y="217.34" width="25.7" height="36.02" fill="#66cd00"/>
<rect x="520.3" y="253.37" width="25.7" height="36.02" fill="#7fff00"/>
<rect x="520.3" y="289.39" width="25.7" height="36.02" fill="#a2cd5a"/>
<rect x="520.3" y="325.41" width="25.7" height="36.02" fill="#caff70"/>
<rect x="520.3" y="361.43" width="25.7" height="36.02" fill="#ffff00"/>
<rect x="520.3" y="397.46" width="25.7" height="36.02" fill="#ffa500"/>
<rect x="520.3" y="433.48" width="25.7" height="36.02" fill="#d9d9d9"/>
</g>
<text class="cb" transform="translate(561.6,186.6) scale(1.07,1)" text-anchor="middle">50</text>
<text class="cb" transform="translate(561.6,222.6) scale(1.07,1)" text-anchor="middle">40</text>
<text class="cb" transform="translate(561.6,258.7) scale(1.07,1)" text-anchor="middle">30</text>
<text class="cb" transform="translate(561.6,294.7) scale(1.07,1)" text-anchor="middle">20</text>
<text class="cb" transform="translate(561.6,330.7) scale(1.07,1)" text-anchor="middle">15</text>
<text class="cb" transform="translate(561.6,366.7) scale(1.07,1)" text-anchor="middle">10</text>
<text class="cb" transform="translate(561.6,402.8) scale(1.07,1)" text-anchor="middle">5</text>
<text class="cb" transform="translate(561.6,438.8) scale(1.07,1)" text-anchor="middle">1</text>
<g>
<path d="M433.30,184.36 A25.3,25.3 0 1 1 480.70,184.36" fill="none" stroke="#3f8fe6" stroke-width="1.05"/>
<path d="M437.50,178.94 A19.8,19.8 0 1 1 476.50,178.94" fill="none" stroke="#a9cdf0" stroke-width="0.5"/>
<path id="lgarc" d="M435.82,177.73 A21.3,21.3 0 1 1 478.18,177.73" fill="none"/>
<text style="font:bold 3.6px 'Liberation Sans','Noto Sans Ethiopic',sans-serif" fill="#1d3f8c" textLength="68" lengthAdjust="spacingAndGlyphs"><textPath href="#lgarc" startOffset="1">የኢትዮጵያ ሚቲዎሮሎጂ ኢንስቲትዩት</textPath></text>
<circle cx="449.6" cy="162.6" r="3.0" fill="#f1622a"/>
<circle cx="449.8" cy="163.0" r="1.9" fill="#fbb03b"/>
<path d="M445.0,166.2 C444.6,164.6 446.6,163.6 448.4,163.8 C449.4,161.8 452.2,161.0 454.2,162.0 C455.6,160.0 459.8,159.8 461.6,161.4 C463.6,160.8 466.0,161.6 466.8,163.0 C469.0,163.0 471.2,164.4 471.2,166.0 C470.8,167.4 468,167.8 465.6,167.6 C463.6,168.6 459.4,168.4 457.6,168.0 C454.6,168.6 451.6,168.2 450.2,167.6 C448.2,167.8 445.4,167.4 445.0,166.2Z" fill="#1e3566"/>
<path d="M452,163.4 C454,162.0 458,161.8 460.6,162.6 C463,162.2 465.6,163.2 466.2,164.4 C462,163.9 456,164.3 452,163.4Z" fill="#3c6db8"/>
<path d="M447,165.6 C452,165.0 462,165.2 469.6,165.4 C464,166.3 452,166.5 447,165.6Z" fill="#2a57a6"/>
<g stroke="#4a5670" stroke-width="0.4" stroke-linecap="round"><line x1="448.5" y1="169.0" x2="448.35" y2="169.55"/><line x1="451.5" y1="169.4" x2="451.35" y2="169.95"/><line x1="454.5" y1="169.0" x2="454.35" y2="169.55"/><line x1="458.0" y1="169.4" x2="457.85" y2="169.95"/><line x1="461.5" y1="169.0" x2="461.35" y2="169.55"/><line x1="465.0" y1="169.4" x2="464.85" y2="169.95"/><line x1="467.5" y1="169.0" x2="467.35" y2="169.55"/><line x1="450.5" y1="171.0" x2="450.35" y2="171.55"/><line x1="453.5" y1="171.3" x2="453.35" y2="171.85"/><line x1="457.0" y1="171.0" x2="456.85" y2="171.55"/><line x1="460.5" y1="171.4" x2="460.35" y2="171.95"/><line x1="463.5" y1="171.0" x2="463.35" y2="171.55"/><line x1="452.5" y1="173.0" x2="452.35" y2="173.55"/><line x1="456.0" y1="173.2" x2="455.85" y2="173.75"/><line x1="459.5" y1="172.9" x2="459.35" y2="173.45"/><line x1="456.0" y1="175.0" x2="455.85" y2="175.55"/></g>
<path d="M433.4,184.6 C434.4,181.6 436.6,178.6 438.6,178 C440.6,177.6 442.6,179.6 444.6,180 C447.6,179.6 451.6,176 454.6,175.4 C457.6,176 460.6,178.6 463.6,179.6 C467.6,180.4 472.6,181 476.6,181.6 C478.6,182 480.2,183 480.4,184.6 Z" fill="#3f9a24"/>
<path d="M433.4,184.6 C436,182.4 439,181 442,181.4 C445,182 448,181.2 451,180.6 C454,180.2 457,181.2 460,182 C466,182.2 474,182.4 480.4,183.6 L480.4,184.6Z" fill="#1f5d1b"/>
<path d="M448,179 C450.5,177.2 453,175.8 454.6,175.4 C456.5,175.8 458.5,177.2 460.5,178.4 C457,178.2 452,178.4 448,179Z" fill="#6cc42f"/>
<path d="M462.4,180.2 C460,180.8 457.4,181.6 457.6,182.4 C458,183.2 460.4,183.2 459.6,184 C458,184.6 452,184.6 445,184.8 C451,183.8 456.5,184 456.6,183.4 C455.4,182.6 455.2,181.8 457.4,181 C459,180.5 461,180.3 462.4,180.2Z" fill="#37c6e6"/>
<path d="M436,184.7 L458,184.4 L458,185.1 L436,185.2Z" fill="#8fd9f2"/>
<text x="457.3" y="187.7" text-anchor="middle" style="font:bold 2.75px 'Liberation Sans',sans-serif" fill="#1d2f7a" textLength="43.2" lengthAdjust="spacingAndGlyphs">Ethiopian Meteorology Institute</text>
<path d="M438.5,189.4 C444,188.8 450,188.9 454,189.2 L454,190.3 C450,190.2 444,190.4 438.5,189.4Z" fill="#2f5fc0"/>
<path d="M476,189.4 C470.5,188.8 464.5,188.9 460.5,189.2 L460.5,190.3 C464.5,190.2 470.5,190.4 476,189.4Z" fill="#2f5fc0"/>
<path d="M440,190.6 C446,190.4 451,190.5 454.5,190.8 L454.5,191.3 C450,191.2 445,191.3 440,190.6Z" fill="#8eb4ea"/>
<path d="M474.5,190.6 C468.5,190.4 463.5,190.5 460,190.8 L460,191.3 C464.5,191.2 469.5,191.3 474.5,190.6Z" fill="#8eb4ea"/>
<text x="457.25" y="190.95" text-anchor="middle" style="font:bold 2.3px 'Liberation Sans',sans-serif" fill="#3a4a6a">2023</text>
</g>
</svg>
</body>
</html>
